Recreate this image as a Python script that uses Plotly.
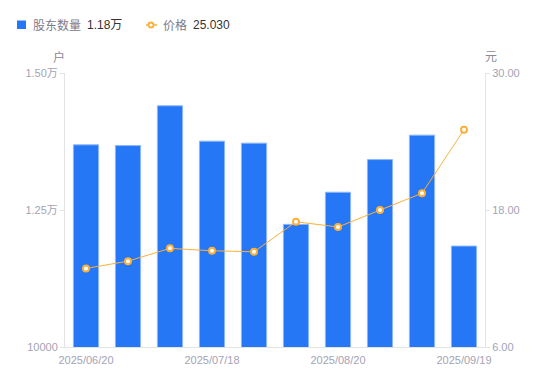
import plotly.graph_objects as go

dates = ["2025/06/20", "2025/06/30", "2025/07/10", "2025/07/18", "2025/07/31",
         "2025/08/10", "2025/08/20", "2025/08/31", "2025/09/10", "2025/09/19"]
holders = [13689, 13676, 14402, 13756, 13720, 12238, 12824, 13420, 13866, 11842]
prices = [12.88, 13.52, 14.64, 14.43, 14.34, 16.97, 16.51, 18.00, 19.47, 25.03]

x_tick_vals = [dates[0], dates[3], dates[6], dates[9]]
y1_tick_vals = [10000, 12500, 15000]
y1_tick_text = ["10000", "1.25万", "1.50万"]
y2_tick_vals = [6, 18, 30]
y2_tick_text = ["6.00", "18.00", "30.00"]

legend_names = ["股东数量", "价格"]
legend_values = ["1.18万", "25.030"]

FONT = "Liberation Sans, Noto Sans CJK SC, sans-serif"
TICK_COLOR = "#a3a3b5"
AXIS_COLOR = "#e3e3e3"
BAR_COLOR = "#2677f5"
LINE_COLOR = "#fbb03b"

W, H = 550, 381
ML, MR, MT, MB = 65, 65, 73, 34
PW, PH = W - ML - MR, H - MT - MB


def px_x(p):
    return (p - ML) / PW


def px_y(p):
    return (H - MB - p) / PH


fig = go.Figure()
fig.add_trace(go.Bar(
    x=dates, y=holders, width=0.6,
    marker=dict(color=BAR_COLOR, line=dict(color="#8fb8fa", width=1)),
    name=legend_names[0], yaxis="y", showlegend=False,
))
fig.add_trace(go.Scatter(
    x=dates, y=prices, mode="lines+markers",
    line=dict(color=LINE_COLOR, width=1),
    marker=dict(size=6, color="white", line=dict(color=LINE_COLOR, width=2)),
    name=legend_names[1], yaxis="y2", showlegend=False,
))

# legend drawn as shapes + annotations
legend_y = 25
shapes = [
    dict(type="rect", xref="paper", yref="paper",
         x0=px_x(17), x1=px_x(26), y0=px_y(29), y1=px_y(20.5),
         fillcolor=BAR_COLOR, line=dict(width=0)),
    dict(type="line", xref="paper", yref="paper",
         x0=px_x(146), x1=px_x(157), y0=px_y(legend_y), y1=px_y(legend_y),
         line=dict(color=LINE_COLOR, width=1.5)),
    dict(type="circle", xref="paper", yref="paper",
         x0=px_x(148.5), x1=px_x(153.5), y0=px_y(legend_y + 2.5), y1=px_y(legend_y - 2.5),
         fillcolor="white", line=dict(color=LINE_COLOR, width=1.8)),
]

annotations = [
    dict(text=legend_names[0], x=px_x(31), y=px_y(legend_y), xanchor="left", yanchor="middle",
         font=dict(size=12, color="#7b7b8c", family=FONT)),
    dict(text=legend_values[0], x=px_x(85), y=px_y(legend_y), xanchor="left", yanchor="middle",
         font=dict(size=12, color="#333333", family=FONT)),
    dict(text=legend_names[1], x=px_x(161), y=px_y(legend_y), xanchor="left", yanchor="middle",
         font=dict(size=12, color="#7b7b8c", family=FONT)),
    dict(text=legend_values[1], x=px_x(191), y=px_y(legend_y), xanchor="left", yanchor="middle",
         font=dict(size=12, color="#333333", family=FONT)),
    dict(text="户", x=px_x(58.5), y=px_y(57), xanchor="center", yanchor="middle",
         font=dict(size=12, color="#8a8a9a", family=FONT)),
    dict(text="元", x=px_x(490.5), y=px_y(57), xanchor="center", yanchor="middle",
         font=dict(size=12, color="#8a8a9a", family=FONT)),
]
for a in annotations:
    a.update(xref="paper", yref="paper", showarrow=False)

fig.update_layout(
    width=W, height=H,
    margin=dict(l=ML, r=MR, t=MT, b=MB, autoexpand=False),
    plot_bgcolor="white", paper_bgcolor="white",
    font=dict(family=FONT, size=11, color=TICK_COLOR),
    showlegend=False,
    xaxis=dict(
        type="category", range=[-0.5, len(dates) - 0.5],
        tickmode="array", tickvals=x_tick_vals, ticktext=x_tick_vals,
        showline=True, linecolor=AXIS_COLOR, linewidth=1, ticks="",
        ticklabelstandoff=3,
        showgrid=False, zeroline=False, tickfont=dict(size=11, color=TICK_COLOR),
        automargin=False,
    ),
    yaxis=dict(
        range=[10000, 15000], tickmode="array", tickvals=y1_tick_vals, ticktext=y1_tick_text,
        showline=True, linecolor=AXIS_COLOR, linewidth=1, ticks="outside", ticklen=4,
        tickcolor=AXIS_COLOR, showgrid=False, zeroline=False,
        tickfont=dict(size=11, color=TICK_COLOR), automargin=False,
    ),
    yaxis2=dict(
        range=[6, 30], overlaying="y", side="right", tickmode="array",
        tickvals=y2_tick_vals, ticktext=y2_tick_text,
        showline=True, linecolor=AXIS_COLOR, linewidth=1, ticks="outside", ticklen=4,
        tickcolor=AXIS_COLOR, showgrid=False, zeroline=False,
        tickfont=dict(size=11, color=TICK_COLOR), automargin=False,
    ),
    shapes=shapes,
    annotations=annotations,
)

fig.write_html("out.html", config={"displayModeBar": False},
               post_script="document.body.style.margin='0';")
